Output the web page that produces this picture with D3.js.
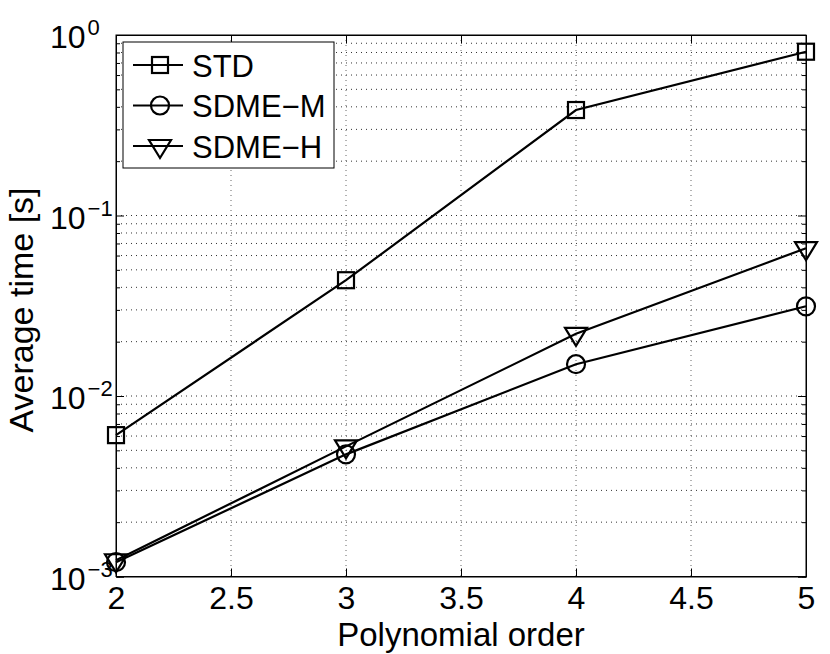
<!DOCTYPE html>
<html>
<head>
<meta charset="utf-8">
<script src="https://cdn.jsdelivr.net/npm/d3@7"></script>
<style>
  body { margin: 0; background: #fff; }
  text { font-family: "Liberation Sans", Arial, sans-serif; fill: #000; }
</style>
</head>
<body>
<div id="chart"></div>
<script>
// polynomial order vs average time
const orders = [2, 3, 4, 5];
const stdTime = [0.00607, 0.0438, 0.384, 0.808];
const sdmeMTime = [0.00120, 0.00475, 0.0150, 0.0314];
const sdmeHTime = [0.00123, 0.00526, 0.0221, 0.0659];

const seriesNames = ['STD', 'SDME\u2212M', 'SDME\u2212H'];
const seriesMarkers = ['square', 'circle', 'triangle'];
const xTickValues = [2, 2.5, 3, 3.5, 4, 4.5, 5];
const yDecades = [1e-3, 1e-2, 1e-1, 1];
const yExponents = ['\u22123', '\u22122', '\u22121', '0'];

const svgWidth = 830;
const svgHeight = 654;
const margin = { top: 35, right: 24, bottom: 77.5, left: 116 };
const width = svgWidth - margin.left - margin.right;
const height = svgHeight - margin.top - margin.bottom;

const svg = d3.select('#chart')
    .append('svg')
    .attr('width', svgWidth)
    .attr('height', svgHeight)
    .append('g')
    .attr('transform', 'translate(' + margin.left + ',' + margin.top + ')');

const xScale = d3.scaleLinear()
    .domain([2, 5])
    .range([0, width]);

const yScale = d3.scaleLog()
    .domain([1e-3, 1])
    .range([height, 0]);

// minor log ticks (2..9 x 10^k)
const yMinor = [];
yDecades.slice(0, -1).forEach(d => {
    for (let m = 2; m <= 9; m++) yMinor.push(d * m);
});

// grid
svg.append('g')
    .selectAll('line')
    .data(yMinor.concat(yDecades.slice(1, -1)))
    .enter().append('line')
    .attr('x1', 0)
    .attr('x2', width)
    .attr('y1', d => yScale(d))
    .attr('y2', d => yScale(d))
    .attr('stroke', '#333')
    .attr('stroke-width', 1)
    .attr('stroke-dasharray', '1,4');

svg.append('g')
    .selectAll('line')
    .data(xTickValues.slice(1, -1))
    .enter().append('line')
    .attr('x1', d => xScale(d))
    .attr('x2', d => xScale(d))
    .attr('y1', 0)
    .attr('y2', height)
    .attr('stroke', '#666')
    .attr('stroke-width', 1)
    .attr('stroke-dasharray', '1,4');

// axes with inward ticks
const xAxis = svg.append('g')
    .attr('transform', 'translate(0,' + height + ')')
    .call(d3.axisBottom(xScale).tickValues(xTickValues).tickSize(-8).tickPadding(10).tickFormat(d3.format('')));
svg.append('g')
    .call(d3.axisTop(xScale).tickValues(xTickValues).tickSize(-8).tickFormat(''));

svg.append('g')
    .call(d3.axisLeft(yScale).tickValues(yDecades).tickSize(-8).tickFormat(''));
svg.append('g')
    .call(d3.axisLeft(yScale).tickValues(yMinor).tickSize(-4).tickFormat(''));
svg.append('g')
    .attr('transform', 'translate(' + width + ',0)')
    .call(d3.axisRight(yScale).tickValues(yDecades).tickSize(-8).tickFormat(''));
svg.append('g')
    .attr('transform', 'translate(' + width + ',0)')
    .call(d3.axisRight(yScale).tickValues(yMinor).tickSize(-4).tickFormat(''));

svg.selectAll('.domain').attr('stroke', '#000').attr('stroke-width', 1);
svg.selectAll('.tick line').attr('stroke', '#000').attr('stroke-width', 1);

xAxis.selectAll('text')
    .style('font-size', '32px')
    .attr('dy', '0.71em');

// y tick labels: 10 with superscript exponent
const yLabels = svg.append('g')
    .selectAll('text')
    .data(yDecades)
    .enter().append('text')
    .attr('x', -66)
    .attr('y', d => yScale(d) + 13)
    .style('font-size', '32px');
yLabels.append('tspan').text('10');
yLabels.append('tspan')
    .attr('dx', 2)
    .attr('dy', -13)
    .style('font-size', '22px')
    .text((d, i) => yExponents[i]);

// frame
svg.append('rect')
    .attr('width', width)
    .attr('height', height)
    .attr('fill', 'none')
    .attr('stroke', '#000')
    .attr('stroke-width', 1);

// series
const allSeries = [stdTime, sdmeMTime, sdmeHTime];
const line = d3.line()
    .x((d, i) => xScale(orders[i]))
    .y(d => yScale(d));

function drawMarker(g, type, x, y) {
    if (type === 'square') {
        g.append('rect')
            .attr('x', x - 8).attr('y', y - 8)
            .attr('width', 16).attr('height', 16)
            .attr('fill', 'none').attr('stroke', '#000').attr('stroke-width', 2.2);
    } else if (type === 'circle') {
        g.append('circle')
            .attr('cx', x).attr('cy', y).attr('r', 9)
            .attr('fill', 'none').attr('stroke', '#000').attr('stroke-width', 2.2);
    } else {
        g.append('path')
            .attr('d', 'M' + (x - 11) + ',' + (y - 6) + 'L' + (x + 11) + ',' + (y - 6) + 'L' + x + ',' + (y + 12) + 'Z')
            .attr('fill', 'none').attr('stroke', '#000').attr('stroke-width', 2.2);
    }
}

allSeries.forEach((vals, s) => {
    svg.append('path')
        .datum(vals)
        .attr('d', line)
        .attr('fill', 'none')
        .attr('stroke', '#000')
        .attr('stroke-width', 2.2);
    const mg = svg.append('g');
    vals.forEach((v, i) => drawMarker(mg, seriesMarkers[s], xScale(orders[i]), yScale(v)));
});

// legend
const legend = svg.append('g')
    .attr('transform', 'translate(7,7)');
legend.append('rect')
    .attr('width', 211)
    .attr('height', 126)
    .attr('fill', '#fff')
    .attr('stroke', '#000')
    .attr('stroke-width', 1);
seriesNames.forEach((name, i) => {
    const cy = 23 + i * 40.5;
    legend.append('line')
        .attr('x1', 10).attr('x2', 60)
        .attr('y1', cy).attr('y2', cy)
        .attr('stroke', '#000').attr('stroke-width', 2.2);
    drawMarker(legend, seriesMarkers[i], 37, cy);
    legend.append('text')
        .attr('x', 69)
        .attr('y', cy + 11.5)
        .style('font-size', '31px')
        .text(name);
});

// axis titles
svg.append('text')
    .attr('x', width / 2)
    .attr('y', height + 69)
    .attr('text-anchor', 'middle')
    .style('font-size', '33px')
    .text('Polynomial order');

svg.append('text')
    .attr('transform', 'rotate(-90)')
    .attr('x', -310 + margin.top)
    .attr('y', -margin.left + 33)
    .attr('text-anchor', 'middle')
    .style('font-size', '34px')
    .text('Average time [s]');
</script>
</body>
</html>
